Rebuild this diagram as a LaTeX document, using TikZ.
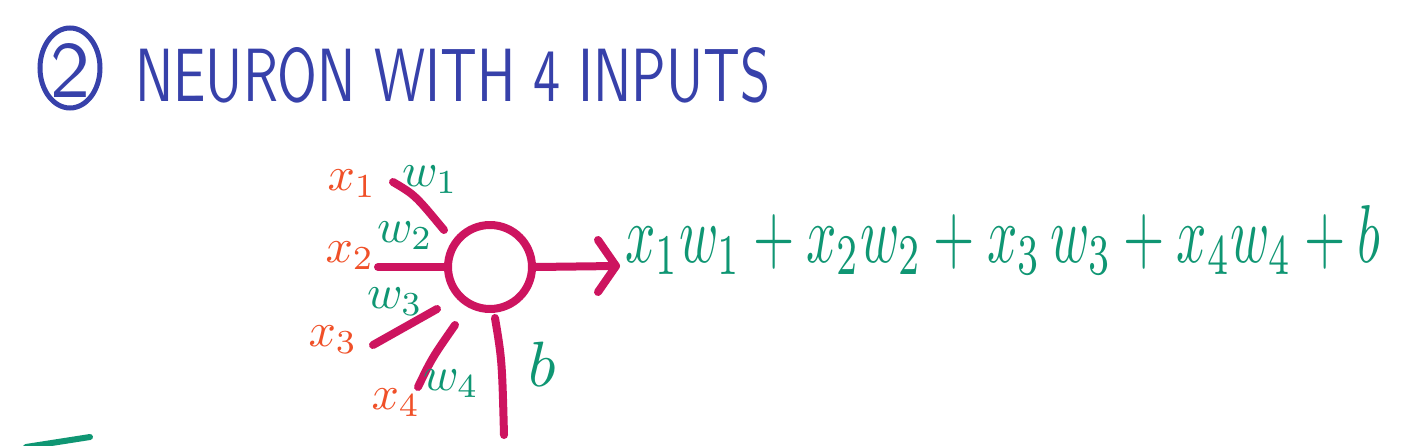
\documentclass[tikz,border=0pt]{standalone}
\usetikzlibrary{arrows.meta,shapes.geometric}
\definecolor{inkblue}{RGB}{55,65,170}
\definecolor{inkred}{RGB}{240,80,40}
\definecolor{inkgreen}{RGB}{15,150,115}
\definecolor{inkpink}{RGB}{205,20,95}
\newcommand{\biglab}[1]{\scalebox{4.8}{$#1$}}
\begin{document}
\begin{tikzpicture}[x=1pt,y=-1pt,
  wire/.style={draw=inkpink,line width=8pt,line cap=round,line join=round},
  xlab/.style={text=inkred,inner sep=0pt},
  wlab/.style={text=inkgreen,inner sep=0pt},
  blueink/.style={draw=inkblue,line width=5pt}]
\useasboundingbox (0,0) rectangle (1404,446);
\fill[white] (0,0) rectangle (1404,446);
\begin{scope}
\clip (0,0) rectangle (1404,446);
% title
\node[blueink,ellipse,minimum width=60pt,minimum height=80pt,inner sep=0pt] (num) at (70,68) {};
\node[text=inkblue,inner sep=0pt] (numtxt) at (70,70) {\resizebox{!}{54pt}{\sffamily 2}};
\node[text=inkblue,anchor=south west,inner sep=0pt] (title) at (135,103) {\resizebox{635pt}{54pt}{\sffamily NEURON WITH 4 INPUTS}};
% neuron
\node[wire,circle,minimum size=84pt,inner sep=0pt] (n) at (490,267) {};
\coordinate (in2) at (378,267);
\coordinate (w1a) at (393,182);
\coordinate (w1b) at (444,230);
\coordinate (w3a) at (373,345);
\coordinate (w3b) at (437,309);
\coordinate (w4a) at (418,387);
\coordinate (w4b) at (455,325);
\coordinate (bb) at (504,435);
\coordinate (bt) at (495,318);
\coordinate (out) at (616,266);
\draw[wire] (in2) -- (n.180);
\draw[wire] (w1a) .. controls (415,195) .. (w1b);
\draw[wire] (w3a) -- (w3b);
\draw[wire] (w4a) .. controls (432,358) .. (w4b);
\draw[wire] (bt) .. controls (502,360) .. (bb);
\draw[wire] (n.0) -- (out);
\draw[wire] ([shift={(-18,-26)}]out) -- (out) -- ([shift={(-18,26)}]out);
% labels
\node[xlab] (x1) at (352,184) {\biglab{x_1}};
\node[wlab] (w1) at (430,180) {\biglab{w_1}};
\node[xlab] (x2) at (350,256) {\biglab{x_2}};
\node[wlab] (w2) at (405,236) {\biglab{w_2}};
\node[wlab] (w3) at (395,302) {\biglab{w_3}};
\node[xlab] (x3) at (333,340) {\biglab{x_3}};
\node[wlab] (w4) at (451,384) {\biglab{w_4}};
\node[xlab] (x4) at (396,403) {\biglab{x_4}};
\node[wlab] (b) at (542,364) {\scalebox{6.4}{$b$}};
% output expression
\node[text=inkgreen,anchor=base west,inner sep=0pt] (expr) at (625,262) {\resizebox{755pt}{57pt}{$x_1w_1+x_2w_2+x_3\,w_3+x_4w_4+b$}};
% stray mark
\coordinate (m1) at (26,447);
\coordinate (m2) at (90,437);
\draw[draw=inkgreen,line width=6pt,line cap=round] (m1) -- (m2);
\end{scope}
\end{tikzpicture}
\end{document}
